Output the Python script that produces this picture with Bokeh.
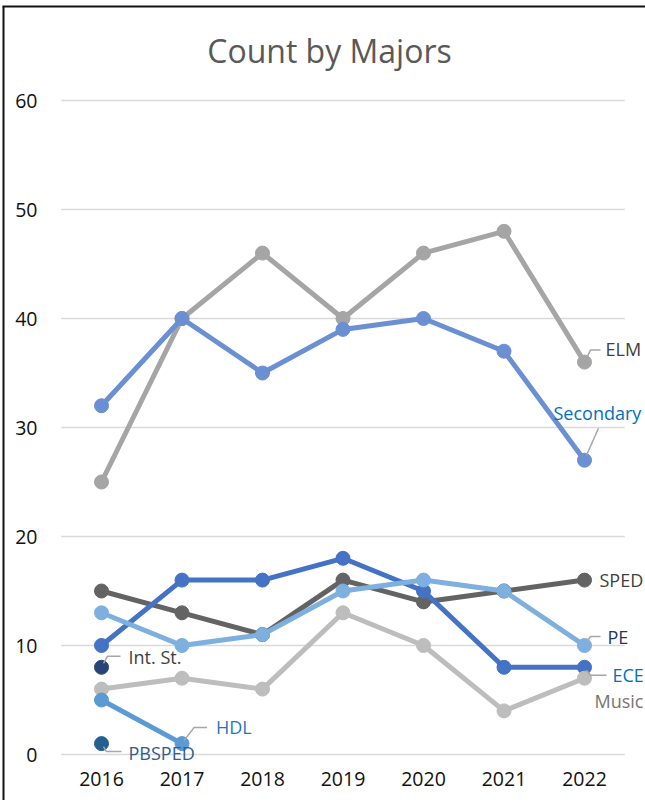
from bokeh.plotting import figure
from bokeh.models import Range1d
from bokeh.core.properties import value
from bokeh.embed import file_html
from bokeh.resources import INLINE

# ---------------- data ----------------
years = [2016, 2017, 2018, 2019, 2020, 2021, 2022]
elm = [25, 40, 46, 40, 46, 48, 36]
secondary = [32, 40, 35, 39, 40, 37, 27]
sped = [15, 13, 11, 16, 14, 15, 16]
ece = [10, 16, 16, 18, 15, 8, 8]
pe = [13, 10, 11, 15, 16, 15, 10]
music = [6, 7, 6, 13, 10, 4, 7]
hdl_years = [2016, 2017]
hdl = [5, 1]
intst_years = [2016]
intst = [8]
pbsped_years = [2016]
pbsped = [1]
y_ticks = [0, 10, 20, 30, 40, 50, 60]
x_tick_labels = [str(y) for y in years]
y_tick_labels = [str(t) for t in y_ticks]
title_text = "Count by Majors"

# ---------------- geometry (pixels) ----------------
W, H = 645, 800
X_PX0, X_STEP = 101.0, 80.5     # pixel of first year, pixels per year
Y_PX0, Y_STEP = 754.0, 10.9     # pixel of value 0, pixels per unit
x_start = years[0] - X_PX0 / X_STEP
x_end = x_start + W / X_STEP
y_end = Y_PX0 / Y_STEP
y_start = y_end - H / Y_STEP


def px2x(px):
    return x_start + px / X_STEP


def px2y(py):
    return y_end - py / Y_STEP


def off(xv, yv, dx, dy):
    """pixel offset (dx right, dy down) from a data point -> data coords"""
    return xv + dx / X_STEP, yv - dy / Y_STEP


FONT = value("Open Sans")

p = figure(width=W, height=H, output_backend="svg", toolbar_location=None,
           x_range=Range1d(x_start, x_end), y_range=Range1d(y_start, y_end),
           x_axis_location=None, y_axis_location=None,
           min_border=0, background_fill_color="white",
           border_fill_color="white")
p.outline_line_color = None
p.grid.visible = False

# chart-area border (left and top edges visible)
p.segment(x0=[px2x(3), px2x(2)], y0=[px2y(H + 5), px2y(6)],
          x1=[px2x(3), px2x(W + 20)], y1=[px2y(6), px2y(6)],
          line_color="#111111", line_width=2)

# horizontal gridlines across the category band
gx0, gx1 = years[0] - 0.5, years[-1] + 0.5
p.segment(x0=[gx0] * len(y_ticks), y0=y_ticks, x1=[gx1] * len(y_ticks),
          y1=y_ticks, line_color="#D9D9D9", line_width=1.5)

# tick labels
p.text(x=[px2x(37)] * len(y_ticks), y=y_ticks, text=y_tick_labels,
       text_font=FONT, text_font_size="19.5px", text_color="#111111",
       text_align="right", text_baseline="middle")
p.text(x=years, y=[px2y(778)] * len(years), text=x_tick_labels,
       text_font=FONT, text_font_size="19.5px", text_color="#111111",
       text_align="center", text_baseline="middle")

series = [
    ("ELM", years, elm, "#A5A5A5"),
    ("Secondary", years, secondary, "#6A8FD2"),
    ("SPED", years, sped, "#636363"),
    ("ECE", years, ece, "#4472C4"),
    ("PE", years, pe, "#7DAFDF"),
    ("Music", years, music, "#BDBDBD"),
    ("HDL", hdl_years, hdl, "#5B9BD5"),
    ("Int. St.", intst_years, intst, "#264478"),
    ("PBSPED", pbsped_years, pbsped, "#255E91"),
]
for name, xs, ys, col in series:
    if len(xs) > 1:
        p.line(xs, ys, line_color=col, line_width=5)
    p.scatter(xs, ys, size=14, fill_color=col, line_color=col)

# data labels: (series, point index, text offset px, leader offsets px, colour)
labels = [
    ("ELM", 6, (21, -13), [(2, -4), (6, -12), (16, -12)], "#404040"),
    ("Secondary", 6, (-31, -47), [(2, -5), (14, -32)], "#0070C0"),
    ("SPED", 6, (15, 0), [], "#404040"),
    ("PE", 6, (23, -9), [(2, -3), (6, -9), (16, -9)], "#203864"),
    ("ECE", 6, (28, 8), [(2, 3), (6, 8), (22, 8)], "#0070C0"),
    ("Music", 6, (10, 23), [], "#757575"),
    ("Int. St.", 0, (27, -10), [(2, -4), (6, -11), (19, -11)], "#404040"),
    ("HDL", 1, (34, -17), [(2, -3), (12, -16), (25, -16)], "#2E75B6"),
    ("PBSPED", 0, (27, 9), [(2, 3), (5, 8), (20, 8)], "#2F5C91"),
]
lookup = {n: (xs, ys) for n, xs, ys, c in series}
for name, idx, toff, lead, tcol in labels:
    xs, ys = lookup[name]
    xv, yv = xs[idx], ys[idx]
    if lead:
        pts = [off(xv, yv, dx, dy) for dx, dy in lead]
        p.line([q[0] for q in pts], [q[1] for q in pts], line_color="#A6A6A6",
               line_width=1.5)
    tx, ty = off(xv, yv, *toff)
    p.text(x=[tx], y=[ty], text=[name], text_font=FONT,
           text_font_size="18px", text_color=tcol,
           text_baseline="middle", text_align="left")

# chart title
p.text(x=[px2x(329)], y=[px2y(50)], text=[title_text], text_font=FONT,
       text_font_size="32px", text_color="#595959",
       text_baseline="middle", text_align="center")

open("out.html", "w").write(file_html(p, INLINE))
